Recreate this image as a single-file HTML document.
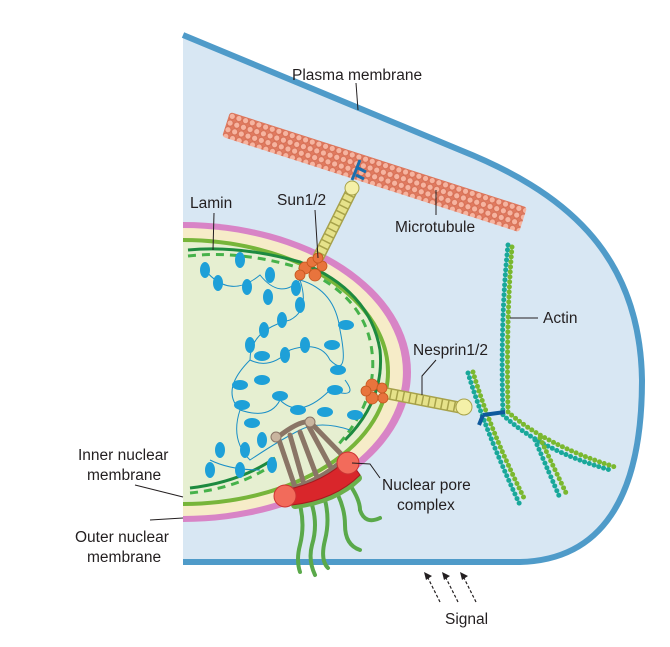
<!DOCTYPE html>
<html><head><style>body{margin:0;background:#fff}text{font-family:"Liberation Sans",sans-serif;font-size:15.5px;fill:#231f20}</style></head>
<body>
<svg width="670" height="642" viewBox="0 0 670 642" xmlns="http://www.w3.org/2000/svg">
<defs>
<pattern id="mt" width="7" height="7" patternUnits="userSpaceOnUse"><rect width="7" height="7" fill="#e07a5f"/><circle cx="3.5" cy="3.5" r="3" fill="#f6b4a0" stroke="#d0664c" stroke-width="0.6"/></pattern>
</defs>
<!-- cell -->
<path d="M183,35 L460,150 C560,190 640,250 642,380 C642,500 600,560 520,562 L183,562 Z" fill="#d8e7f3"/>
<path d="M183,35 L460,150 C560,190 640,250 642,380 C642,500 600,560 520,562 L183,562" fill="none" stroke="#4f9bc9" stroke-width="6"/>
<!-- nucleus -->
<path d="M183,222 A228,150 0 0 1 183,522 Z" fill="#d884c6"/>
<path d="M183,228 A220,144 0 0 1 183,516 Z" fill="#f6ecc8"/>
<path d="M183,240 A205,132 0 0 1 183,504 Z" fill="#e6efd1"/>
<path d="M183,240 A205,132 0 0 1 183,504" fill="none" stroke="#77b53a" stroke-width="4"/>
<!-- lamin -->
<g fill="none" stroke-width="3">
<path d="M188,250 Q240,245 300,262 Q370,290 380,350 Q385,400 345,440" stroke="#1d8a3f"/>
<path d="M188,256 Q240,250 300,268 Q366,296 372,352 Q378,400 338,445" stroke="#46b24a" stroke-dasharray="8 6"/>
<path d="M190,488 Q240,482 275,458" stroke="#1d8a3f"/>
<path d="M190,493 Q240,488 275,463" stroke="#46b24a" stroke-dasharray="8 6"/>
</g>
<!-- chromatin -->
<g fill="none" stroke="#1a8fc7" stroke-width="1">
<path d="M205,270 Q230,300 260,275 Q280,300 300,280 Q310,310 290,320 Q250,330 250,360 Q270,370 290,350 Q320,340 330,360 Q350,380 340,330 Q335,290 300,280"/>
<path d="M250,360 Q220,390 240,410 Q270,420 280,400 Q300,420 330,390 Q360,400 345,380"/>
<path d="M240,410 Q230,440 250,460 Q280,440 300,430 Q320,420 350,430"/>
<path d="M210,460 Q230,470 260,470"/>
</g>
<g fill="#1ea0d8">
<ellipse cx="205" cy="270" rx="5" ry="8"/><ellipse cx="240" cy="260" rx="5" ry="8"/><ellipse cx="218" cy="283" rx="5" ry="8"/><ellipse cx="247" cy="287" rx="5" ry="8"/><ellipse cx="270" cy="275" rx="5" ry="8"/><ellipse cx="268" cy="297" rx="5" ry="8"/><ellipse cx="296" cy="288" rx="5" ry="8"/><ellipse cx="300" cy="305" rx="5" ry="8"/><ellipse cx="282" cy="320" rx="5" ry="8"/><ellipse cx="264" cy="330" rx="5" ry="8"/><ellipse cx="250" cy="345" rx="5" ry="8"/><ellipse cx="262" cy="356" rx="8" ry="5"/><ellipse cx="285" cy="355" rx="5" ry="8"/><ellipse cx="305" cy="345" rx="5" ry="8"/><ellipse cx="332" cy="345" rx="8" ry="5"/><ellipse cx="346" cy="325" rx="8" ry="5"/><ellipse cx="338" cy="370" rx="8" ry="5"/><ellipse cx="335" cy="390" rx="8" ry="5"/><ellipse cx="240" cy="385" rx="8" ry="5"/><ellipse cx="262" cy="380" rx="8" ry="5"/><ellipse cx="280" cy="396" rx="8" ry="5"/><ellipse cx="242" cy="405" rx="8" ry="5"/><ellipse cx="298" cy="410" rx="8" ry="5"/><ellipse cx="325" cy="412" rx="8" ry="5"/><ellipse cx="252" cy="423" rx="8" ry="5"/><ellipse cx="262" cy="440" rx="5" ry="8"/><ellipse cx="220" cy="450" rx="5" ry="8"/><ellipse cx="245" cy="450" rx="5" ry="8"/><ellipse cx="210" cy="470" rx="5" ry="8"/><ellipse cx="240" cy="470" rx="5" ry="8"/><ellipse cx="272" cy="465" rx="5" ry="8"/><ellipse cx="355" cy="415" rx="8" ry="5"/>
</g>
<!-- nuclear pore -->
<g stroke="#8a7566" stroke-width="5" fill="none" stroke-linecap="round">
<line x1="278" y1="437" x2="296" y2="490"/><line x1="290" y1="435" x2="305" y2="488"/><line x1="300" y1="432" x2="320" y2="485"/><line x1="308" y1="425" x2="335" y2="475"/><line x1="310" y1="422" x2="345" y2="458"/>
<path d="M278,437 Q300,420 310,422"/>
<path d="M285,490 Q320,482 345,458"/>
</g>
<circle cx="310" cy="422" r="5" fill="#c9b59f" stroke="#8a7566"/><circle cx="276" cy="437" r="5" fill="#c9b59f" stroke="#8a7566"/>
<g fill="none" stroke="#5aa94a" stroke-width="4" stroke-linecap="round">
<path d="M300,505 Q305,525 300,545 Q296,560 300,572"/><path d="M312,505 Q318,525 312,545 Q308,560 315,575"/><path d="M325,500 Q330,520 325,540 Q320,560 328,568"/><path d="M338,495 Q345,510 345,525 Q345,545 360,550"/><path d="M350,485 Q360,500 360,510 Q365,525 380,518"/>
</g>
<path d="M295,505 Q335,500 358,478" stroke="#6ab04c" stroke-width="8" fill="none" stroke-linecap="round"/>
<path d="M285,490 Q325,482 348,458 L360,475 Q335,500 292,505 Z" fill="#d9262b" stroke="#a51a1f"/>
<circle cx="348" cy="463" r="11" fill="#f26b5b" stroke="#c33"/>
<circle cx="285" cy="496" r="11" fill="#f26b5b" stroke="#c33"/>
<!-- microtubule -->
<g transform="translate(230,112) rotate(17.8)">
<rect x="0" y="0" width="312" height="26" fill="url(#mt)" rx="3"/>
</g>
<!-- sun stalk -->
<line x1="352" y1="190" x2="318" y2="258" stroke="#a7a24a" stroke-width="12"/>
<line x1="352" y1="190" x2="318" y2="258" stroke="#e6e28a" stroke-width="9" stroke-dasharray="5 1.5"/>
<circle cx="352" cy="188" r="7" fill="#f4f0a8" stroke="#a7a24a"/>
<path d="M352,180 L360,160 M356,175 l8,4 M358,168 l8,4" stroke="#1a6fae" stroke-width="3"/>
<!-- nesprin rod -->
<line x1="385" y1="393" x2="462" y2="408" stroke="#a7a24a" stroke-width="12"/>
<line x1="385" y1="393" x2="462" y2="408" stroke="#e6e28a" stroke-width="9" stroke-dasharray="5 1.5"/>
<circle cx="464" cy="407" r="8" fill="#f4f0a8" stroke="#a7a24a"/>
<!-- sun/nesprin clusters -->
<g fill="#e8743d" stroke="#c4561f" stroke-width="0.8">
<circle cx="305" cy="268" r="6"/><circle cx="315" cy="275" r="6"/><circle cx="322" cy="266" r="5"/><circle cx="312" cy="262" r="5"/><circle cx="318" cy="258" r="5"/><circle cx="300" cy="275" r="5"/>
<circle cx="372" cy="385" r="6"/><circle cx="372" cy="398" r="6"/><circle cx="366" cy="391" r="5"/><circle cx="382" cy="388" r="5"/><circle cx="383" cy="398" r="5"/>
</g>
<!-- actin -->
<g fill="none" stroke-width="5" stroke-dasharray="0 5" stroke-linecap="round">
<path d="M508,245 Q500,320 503,415 Q540,450 610,470" stroke="#19a89a"/>
<path d="M512,247 Q506,320 508,412 Q545,445 615,467" stroke="#7ab82f"/>
<path d="M468,373 Q485,430 520,505" stroke="#19a89a"/>
<path d="M473,372 Q490,430 525,500" stroke="#7ab82f"/>
<path d="M535,440 Q550,475 560,498" stroke="#19a89a"/>
<path d="M540,438 Q555,470 567,495" stroke="#7ab82f"/>
</g>
<path d="M483,415 L505,412 M483,415 l-4,10" stroke="#0f5a9c" stroke-width="4" fill="none"/>
<!-- leader lines -->
<g stroke="#231f20" stroke-width="1" fill="none">
<line x1="356" y1="83" x2="358" y2="110"/>
<line x1="214" y1="213" x2="213" y2="250"/>
<path d="M315,210 L318,258"/>
<line x1="436" y1="190" x2="436" y2="215"/>
<line x1="510" y1="318" x2="538" y2="318"/>
<path d="M436,360 L422,376 L422,395"/>
<path d="M352,463 L370,464 L380,478"/>
<path d="M135,485 L183,497"/>
<path d="M150,520 L183,518"/>
</g>
<text x="292" y="80">Plasma membrane</text>
<text x="190" y="208">Lamin</text>
<text x="277" y="205">Sun1/2</text>
<text x="395" y="232">Microtubule</text>
<text x="543" y="323">Actin</text>
<text x="413" y="355">Nesprin1/2</text>
<text x="382" y="490">Nuclear pore</text>
<text x="397" y="510">complex</text>
<text x="78" y="460">Inner nuclear</text>
<text x="87" y="480">membrane</text>
<text x="75" y="542">Outer nuclear</text>
<text x="87" y="562">membrane</text>
<text x="445" y="624">Signal</text>
<g stroke="#231f20" stroke-width="1.2" stroke-dasharray="3 2" fill="none">
<line x1="440" y1="602" x2="428" y2="578"/><line x1="458" y1="602" x2="446" y2="578"/><line x1="476" y1="602" x2="464" y2="578"/>
</g>
<g fill="#231f20"><path d="M424,572 l8,4 l-6,4 z"/><path d="M442,572 l8,4 l-6,4 z"/><path d="M460,572 l8,4 l-6,4 z"/></g>
</svg>
</body></html>
